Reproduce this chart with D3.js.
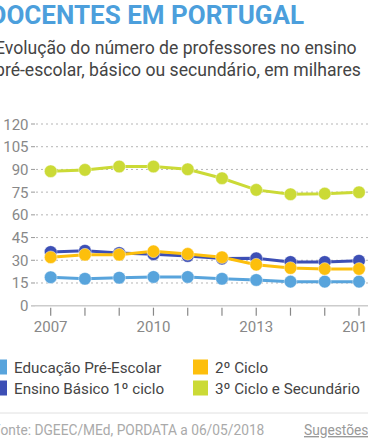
<!DOCTYPE html>
<html><head><meta charset="utf-8">
<script src="https://cdn.jsdelivr.net/npm/d3@7"></script>
<style>
html,body{margin:0;padding:0;background:#fff;overflow:hidden;}
svg{display:block;font-family:Roboto,"Noto Sans",sans-serif;}
</style></head>
<body>
<script>
const years = [2007,2008,2009,2010,2011,2012,2013,2014,2015,2016];
const preEscolar = [18.8,17.8,18.5,19.0,19.0,17.8,17.0,15.9,15.9,15.9];
const basico1 = [35.5,36.3,34.8,34.0,32.8,31.1,31.3,28.9,28.9,29.7];
const ciclo2 = [32.0,33.7,33.7,35.9,34.2,32.0,27.1,24.9,24.3,24.3];
const ciclo3Sec = [88.8,89.7,91.9,91.9,90.1,84.2,76.5,73.6,74.0,74.9];
const seriesNames = ["Educação Pré-Escolar","Ensino Básico 1º ciclo","2º Ciclo","3º Ciclo e Secundário"];
const seriesColors = ["#58a4dc","#3d4fb5","#fdbf0c","#cbda36"];
const yTicks = [0,15,30,45,60,75,90,105,120];
const xTickLabels = [2007,2010,2013,2016];

const W=368,H=445;
const svg=d3.select("body").append("svg").attr("width",W).attr("height",H);

svg.append("text").attr("x",-10.5).attr("y",23.5).attr("font-size",26).attr("font-weight",700)
  .attr("fill","#4c9fdc").text("DOCENTES EM PORTUGAL");
svg.append("text").attr("x",-5).attr("y",53.5).attr("font-size",17.6).attr("fill","#444")
  .text("Evolução do número de professores no ensino");
svg.append("text").attr("x",-5).attr("y",76).attr("font-size",17.6).attr("fill","#444")
  .text("pré-escolar, básico ou secundário, em milhares");

const x=d3.scaleLinear().domain([2007,2016]).range([50.7,359]);
const y=d3.scaleLinear().domain([0,120]).range([305.7,124]);

// gridlines
const gy=svg.append("g");
gy.selectAll("line.grid").data(yTicks.filter(d=>d>0)).join("line")
  .attr("x1",36).attr("x2",W).attr("y1",d=>y(d)).attr("y2",d=>y(d))
  .attr("stroke","#b5b5b5").attr("stroke-width",1).attr("stroke-dasharray","2,3");
gy.selectAll("line.tk").data(yTicks).join("line")
  .attr("x1",31).attr("x2",35).attr("y1",d=>y(d)).attr("y2",d=>y(d))
  .attr("stroke","#999").attr("stroke-width",1);
gy.selectAll("text").data(yTicks).join("text")
  .attr("x",28.5).attr("y",d=>y(d)+5.5).attr("text-anchor","end")
  .attr("font-size",15).attr("fill","#888").text(d=>d);

// x axis
svg.append("line").attr("x1",31).attr("x2",W).attr("y1",y(0)).attr("y2",y(0))
  .attr("stroke","#ccc").attr("stroke-width",1.5);
svg.append("g").selectAll("line").data(years).join("line")
  .attr("x1",d=>x(d)).attr("x2",d=>x(d)).attr("y1",y(0)+2).attr("y2",y(0)+10)
  .attr("stroke","#888").attr("stroke-width",1.2);
svg.append("g").selectAll("text").data(xTickLabels).join("text")
  .attr("x",d=>x(d)).attr("y",332).attr("text-anchor","middle")
  .attr("font-size",15).attr("fill","#888").text(d=>d);

const allSeries=[preEscolar,basico1,ciclo2,ciclo3Sec];
const line=d3.line().x((d,i)=>x(years[i])).y(d=>y(d));
allSeries.forEach((s,k)=>{
  const g=svg.append("g");
  g.append("path").datum(s).attr("d",line).attr("fill","none")
    .attr("stroke",seriesColors[k]).attr("stroke-width",3);
  g.selectAll("circle").data(s).join("circle")
    .attr("cx",(d,i)=>x(years[i])).attr("cy",d=>y(d)).attr("r",6.3)
    .attr("fill",seriesColors[k]).attr("stroke","#fff").attr("stroke-opacity",0.5).attr("stroke-width",0.8);
});

// legend
const legPos=[[-8,359.5],[-8,380.5],[193,359.5],[193,380.5]];
seriesNames.forEach((n,k)=>{
  svg.append("rect").attr("x",legPos[k][0]).attr("y",legPos[k][1]).attr("width",15).attr("height",15)
    .attr("fill",seriesColors[k]);
  svg.append("text").attr("x",legPos[k][0]+22).attr("y",legPos[k][1]+13)
    .attr("font-size",15.2).attr("fill","#444").text(n);
});

svg.append("line").attr("x1",0).attr("x2",W).attr("y1",413).attr("y2",413)
  .attr("stroke","#e0e0e0").attr("stroke-width",1);
svg.append("text").attr("x",-7).attr("y",435).attr("font-size",13.75).attr("fill","#aaa")
  .text("Fonte: DGEEC/MEd, PORDATA a 06/05/2018");
svg.append("text").attr("x",304).attr("y",435).attr("font-size",13.75).attr("fill","#999")
  .attr("text-decoration","underline").text("Sugestões");
</script>
</body></html>
